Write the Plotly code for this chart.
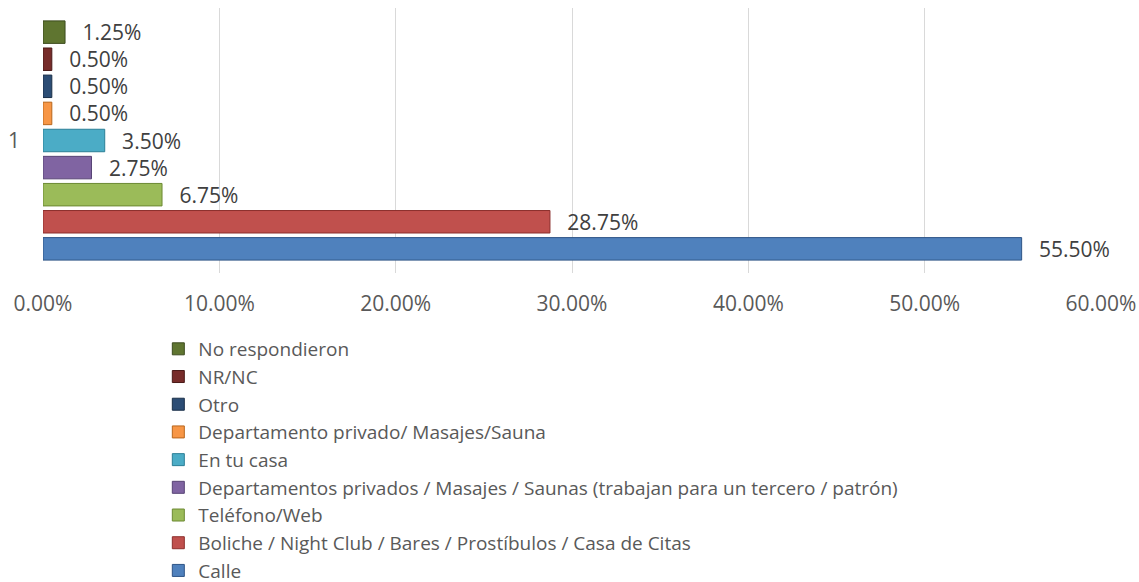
import plotly.graph_objects as go

category = ["1"]
series_names = [
    "Calle",
    "Boliche / Night Club / Bares / Prostíbulos / Casa de Citas",
    "Teléfono/Web",
    "Departamentos privados / Masajes / Saunas (trabajan para un tercero / patrón)",
    "En tu casa",
    "Departamento privado/ Masajes/Sauna",
    "Otro",
    "NR/NC",
    "No respondieron",
]
series_values = [0.5550, 0.2875, 0.0675, 0.0275, 0.0350, 0.0050, 0.0050, 0.0050, 0.0125]
series_colors = ["#4F81BD", "#C0504D", "#9BBB59", "#8064A2", "#4BACC6",
                 "#F79646", "#2C4D75", "#772C2A", "#5F7530"]
line_colors = ["#2E5486", "#8C2F2C", "#6C8A33", "#574475", "#2B7F96",
               "#B8661C", "#1A2F48", "#4A1A18", "#3C4B1E"]
x_ticks = [0, 0.1, 0.2, 0.3, 0.4, 0.5, 0.6]

FONT = "Open Sans"

fig = go.Figure()
for name, val, col, lc in zip(series_names, series_values, series_colors, line_colors):
    fig.add_trace(go.Bar(
        y=category, x=[val], name=name, orientation="h",
        marker=dict(color=col, line=dict(color=lc, width=1)),
        text=[val], texttemplate="\u00a0\u00a0\u2009%{x:.2%}", textposition="outside",
        constraintext="none",
        textfont=dict(family=FONT, size=21, color="#404040"),
        cliponaxis=False,
    ))

fig.update_layout(
    width=1139, height=582,
    margin=dict(l=43, r=38, t=8, b=309, autoexpand=False),
    paper_bgcolor="white", plot_bgcolor="white",
    barmode="group", bargap=0.08, bargroupgap=0.17,
    font=dict(family=FONT, size=21, color="#595959"),
    showlegend=True,
    legend=dict(
        traceorder="reversed", orientation="v",
        x=0.109, xanchor="left", y=-0.215, yanchor="top",
        font=dict(family=FONT, size=19, color="#595959"),
        itemwidth=30, tracegroupgap=0,
        bgcolor="rgba(0,0,0,0)",
    ),
    xaxis=dict(
        range=[0, 0.6], tickvals=x_ticks, tickformat=".2%",
        showgrid=True, gridcolor="#D9D9D9", gridwidth=1,
        zeroline=False, showline=False, ticks="",
        ticklabelstandoff=16, automargin=False,
        tickfont=dict(family=FONT, size=21, color="#595959"),
    ),
    yaxis=dict(
        showgrid=False, zeroline=False, showline=False, ticks="",
        ticklabelstandoff=22, automargin=False,
        tickfont=dict(family=FONT, size=21, color="#595959"),
    ),
)

fig.write_html(
    "out.html",
    config={"displayModeBar": False},
    post_script="document.body.style.margin='0px';document.body.style.overflow='hidden';",
)
